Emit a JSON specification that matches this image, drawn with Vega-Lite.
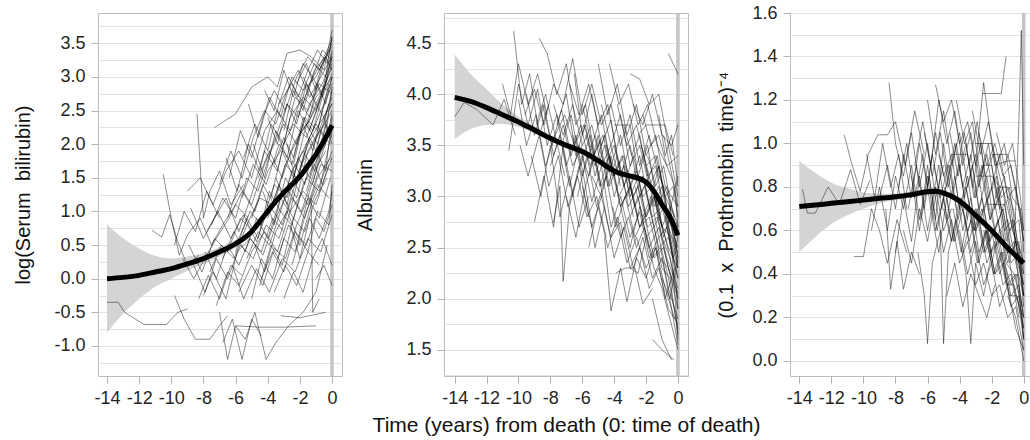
{
  "$schema": "https://vega.github.io/schema/vega-lite/v6.json",
  "padding": {"left": 13, "top": 3, "right": 0, "bottom": 0},
  "background": "white",
  "config": {
    "font": "Liberation Sans",
    "view": {"stroke": "#bdbdbd", "strokeWidth": 1},
    "axis": {
      "domain": false, "tickColor": "#b3b3b3", "tickSize": 7, "tickWidth": 1, "labelPadding": 6,
      "labelFont": "Liberation Sans", "labelFontSize": 18, "labelColor": "#262626",
      "titleFont": "Liberation Sans", "titleFontSize": 20, "titleFontWeight": "normal", "titleColor": "#111111",
      "gridColor": "#e3e3e3", "gridWidth": 1, "labelOverlap": false, "labelFlush": false, "labelBound": false, "tickCount": 100
    },
    "axisX": {"grid": false}
  },
  "datasets": {
    "vl": [{"t": 0}],
    "m1": [
      {"t": -14, "m": 0.0, "lo": -0.8, "hi": 0.81}, {"t": -13, "m": 0.02, "lo": -0.52, "hi": 0.6},
      {"t": -12, "m": 0.05, "lo": -0.3, "hi": 0.45}, {"t": -11, "m": 0.1, "lo": -0.12, "hi": 0.34},
      {"t": -10, "m": 0.15, "lo": 0.0, "hi": 0.3}, {"t": -9, "m": 0.22, "lo": 0.12, "hi": 0.33},
      {"t": -8, "m": 0.3, "lo": 0.22, "hi": 0.38}, {"t": -7, "m": 0.4, "lo": 0.33, "hi": 0.47},
      {"t": -6, "m": 0.52, "lo": 0.46, "hi": 0.58}, {"t": -5, "m": 0.7, "lo": 0.65, "hi": 0.75},
      {"t": -4.5, "m": 0.85, "lo": 0.8, "hi": 0.9}, {"t": -4, "m": 1.0, "lo": 0.95, "hi": 1.05},
      {"t": -3.5, "m": 1.15, "lo": 1.1, "hi": 1.2}, {"t": -3, "m": 1.28, "lo": 1.23, "hi": 1.33},
      {"t": -2.5, "m": 1.4, "lo": 1.35, "hi": 1.45}, {"t": -2, "m": 1.52, "lo": 1.47, "hi": 1.57},
      {"t": -1.5, "m": 1.68, "lo": 1.63, "hi": 1.73}, {"t": -1, "m": 1.85, "lo": 1.8, "hi": 1.9},
      {"t": -0.5, "m": 2.05, "lo": 1.99, "hi": 2.11}, {"t": 0, "m": 2.28, "lo": 2.2, "hi": 2.36}
    ],
    "m2": [
      {"t": -14, "m": 3.97, "lo": 3.56, "hi": 4.39}, {"t": -13, "m": 3.93, "lo": 3.66, "hi": 4.2},
      {"t": -12, "m": 3.87, "lo": 3.7, "hi": 4.05}, {"t": -11, "m": 3.8, "lo": 3.71, "hi": 3.9},
      {"t": -10, "m": 3.73, "lo": 3.68, "hi": 3.78}, {"t": -9, "m": 3.65, "lo": 3.62, "hi": 3.69},
      {"t": -8, "m": 3.57, "lo": 3.54, "hi": 3.6}, {"t": -7, "m": 3.5, "lo": 3.47, "hi": 3.53},
      {"t": -6, "m": 3.44, "lo": 3.41, "hi": 3.47}, {"t": -5, "m": 3.35, "lo": 3.32, "hi": 3.38},
      {"t": -4, "m": 3.25, "lo": 3.22, "hi": 3.28}, {"t": -3, "m": 3.2, "lo": 3.17, "hi": 3.23},
      {"t": -2.5, "m": 3.18, "lo": 3.15, "hi": 3.21}, {"t": -2, "m": 3.14, "lo": 3.11, "hi": 3.17},
      {"t": -1.5, "m": 3.05, "lo": 3.02, "hi": 3.08}, {"t": -1, "m": 2.92, "lo": 2.89, "hi": 2.95},
      {"t": -0.5, "m": 2.8, "lo": 2.76, "hi": 2.84}, {"t": 0, "m": 2.62, "lo": 2.57, "hi": 2.67}
    ],
    "m3": [
      {"t": -14, "m": 0.71, "lo": 0.5, "hi": 0.92}, {"t": -13, "m": 0.717, "lo": 0.57, "hi": 0.865},
      {"t": -12, "m": 0.725, "lo": 0.63, "hi": 0.82}, {"t": -11, "m": 0.732, "lo": 0.67, "hi": 0.795},
      {"t": -10, "m": 0.74, "lo": 0.7, "hi": 0.775}, {"t": -9, "m": 0.748, "lo": 0.725, "hi": 0.77},
      {"t": -8, "m": 0.755, "lo": 0.74, "hi": 0.77}, {"t": -7, "m": 0.765, "lo": 0.75, "hi": 0.78},
      {"t": -6, "m": 0.778, "lo": 0.763, "hi": 0.793}, {"t": -5.5, "m": 0.78, "lo": 0.765, "hi": 0.795},
      {"t": -5, "m": 0.772, "lo": 0.757, "hi": 0.787}, {"t": -4.5, "m": 0.757, "lo": 0.742, "hi": 0.772},
      {"t": -4, "m": 0.735, "lo": 0.72, "hi": 0.75}, {"t": -3.5, "m": 0.705, "lo": 0.69, "hi": 0.72},
      {"t": -3, "m": 0.67, "lo": 0.655, "hi": 0.685}, {"t": -2.5, "m": 0.635, "lo": 0.62, "hi": 0.65},
      {"t": -2, "m": 0.6, "lo": 0.585, "hi": 0.615}, {"t": -1.5, "m": 0.56, "lo": 0.545, "hi": 0.575},
      {"t": -1, "m": 0.52, "lo": 0.505, "hi": 0.535}, {"t": -0.5, "m": 0.485, "lo": 0.47, "hi": 0.5},
      {"t": 0, "m": 0.45, "lo": 0.43, "hi": 0.47}
    ],
    "s1": [
      {"id":"A","t":-14,"v":-0.35},{"id":"A","t":-13.3,"v":-0.35},{"id":"A","t":-12.9,"v":-0.5},{"id":"A","t":-11.7,"v":-0.68},{"id":"A","t":-10.3,"v":-0.68},{"id":"A","t":-9.6,"v":-0.5},{"id":"A","t":-9.0,"v":-0.45},
      {"id":"B","t":-11.2,"v":0.72},{"id":"B","t":-10.6,"v":0.62},{"id":"B","t":-10.1,"v":0.95},{"id":"B","t":-9.6,"v":0.55},{"id":"B","t":-9.0,"v":0.2},{"id":"B","t":-8.3,"v":0.35},
      {"id":"C","t":-10.5,"v":1.55},{"id":"C","t":-10.0,"v":0.9},{"id":"C","t":-9.5,"v":0.35},{"id":"C","t":-9.0,"v":0.65},{"id":"C","t":-8.2,"v":0.9},{"id":"C","t":-7.5,"v":0.5},{"id":"C","t":-6.8,"v":0.8},{"id":"C","t":-6.0,"v":1.1},{"id":"C","t":-5.2,"v":0.9},
      {"id":"D","t":-8.4,"v":2.45},{"id":"D","t":-8.0,"v":0.9},{"id":"D","t":-7.6,"v":1.3},{"id":"D","t":-7.0,"v":1.6},{"id":"D","t":-6.3,"v":1.1},{"id":"D","t":-5.5,"v":1.4},
      {"id":"E","t":-7.3,"v":2.25},{"id":"E","t":-6.0,"v":2.45},{"id":"E","t":-5.0,"v":2.85},{"id":"E","t":-4.0,"v":3.0},{"id":"E","t":-3.4,"v":2.85},{"id":"E","t":-2.8,"v":3.35},{"id":"E","t":-2.0,"v":3.4},{"id":"E","t":-1.3,"v":3.3},{"id":"E","t":-0.5,"v":3.1},{"id":"E","t":0,"v":3.7},
      {"id":"F","t":-9.8,"v":-0.25},{"id":"F","t":-9.2,"v":-0.6},{"id":"F","t":-8.5,"v":-0.9},{"id":"F","t":-7.6,"v":-0.9},{"id":"F","t":-7.0,"v":-0.7},{"id":"F","t":-6.5,"v":-0.55},
      {"id":"G","t":-7.0,"v":-0.5},{"id":"G","t":-6.5,"v":-1.2},{"id":"G","t":-6.0,"v":-0.7},{"id":"G","t":-5.4,"v":-0.9},{"id":"G","t":-4.8,"v":-0.5},{"id":"G","t":-4.1,"v":-1.2},{"id":"G","t":-3.5,"v":-0.95},{"id":"G","t":-2.7,"v":-0.7},{"id":"G","t":-1.8,"v":-0.5},{"id":"G","t":-1.0,"v":-0.2},{"id":"G","t":-0.3,"v":0.5},
      {"id":"H","t":-6.8,"v":-0.95},{"id":"H","t":-6.2,"v":-0.6},{"id":"H","t":-5.6,"v":-1.2},{"id":"H","t":-5.0,"v":-0.6},{"id":"H","t":-4.4,"v":-0.85},
      {"id":"I","t":-9.3,"v":0.3},{"id":"I","t":-8.6,"v":0.0},{"id":"I","t":-7.8,"v":0.35},{"id":"I","t":-7.2,"v":0.6},{"id":"I","t":-6.4,"v":0.9},{"id":"I","t":-5.6,"v":1.3},{"id":"I","t":-4.8,"v":1.0},{"id":"I","t":-4.0,"v":1.6},{"id":"I","t":-3.2,"v":1.9},{"id":"I","t":-2.4,"v":2.3},{"id":"I","t":-1.6,"v":2.1},{"id":"I","t":-0.8,"v":2.6},{"id":"I","t":0,"v":3.2},
      {"id":"J","t":-8.8,"v":1.05},{"id":"J","t":-8.0,"v":0.6},{"id":"J","t":-7.3,"v":0.9},{"id":"J","t":-6.6,"v":1.2},{"id":"J","t":-5.8,"v":0.7},{"id":"J","t":-5.0,"v":1.25},{"id":"J","t":-4.2,"v":1.9},{"id":"J","t":-3.4,"v":1.6},{"id":"J","t":-2.6,"v":2.4},{"id":"J","t":-1.8,"v":2.7},{"id":"J","t":-1.0,"v":2.5},{"id":"J","t":-0.3,"v":3.0},
      {"id":"K","t":-8.0,"v":-0.25},{"id":"K","t":-7.4,"v":0.1},{"id":"K","t":-6.6,"v":-0.3},{"id":"K","t":-5.9,"v":0.4},{"id":"K","t":-5.1,"v":0.6},{"id":"K","t":-4.3,"v":0.35},{"id":"K","t":-3.5,"v":0.9},{"id":"K","t":-2.7,"v":1.3},{"id":"K","t":-1.9,"v":1.0},{"id":"K","t":-1.1,"v":1.6},{"id":"K","t":-0.4,"v":1.9},
      {"id":"L","t":-7.6,"v":0.1},{"id":"L","t":-6.9,"v":0.5},{"id":"L","t":-6.1,"v":0.3},{"id":"L","t":-5.3,"v":0.8},{"id":"L","t":-4.5,"v":1.2},{"id":"L","t":-3.7,"v":1.1},{"id":"L","t":-2.9,"v":1.7},{"id":"L","t":-2.1,"v":2.1},{"id":"L","t":-1.3,"v":2.4},{"id":"L","t":-0.5,"v":2.8},{"id":"L","t":0,"v":3.3},
      {"id":"M","t":-6.5,"v":0.9},{"id":"M","t":-5.8,"v":1.4},{"id":"M","t":-5.0,"v":1.1},{"id":"M","t":-4.2,"v":1.7},{"id":"M","t":-3.5,"v":2.1},{"id":"M","t":-2.8,"v":2.6},{"id":"M","t":-2.1,"v":2.4},{"id":"M","t":-1.4,"v":2.9},{"id":"M","t":-0.7,"v":3.2},{"id":"M","t":0,"v":3.55},
      {"id":"N","t":-5.8,"v":-0.2},{"id":"N","t":-5.0,"v":0.2},{"id":"N","t":-4.3,"v":-0.1},{"id":"N","t":-3.6,"v":0.45},{"id":"N","t":-2.9,"v":0.3},{"id":"N","t":-2.2,"v":0.8},{"id":"N","t":-1.5,"v":1.2},{"id":"N","t":-0.8,"v":0.9},{"id":"N","t":-0.1,"v":1.5},
      {"id":"O","t":-4.8,"v":0.5},{"id":"O","t":-4.2,"v":0.1},{"id":"O","t":-3.5,"v":0.7},{"id":"O","t":-2.8,"v":1.0},{"id":"O","t":-2.1,"v":0.6},{"id":"O","t":-1.4,"v":1.3},{"id":"O","t":-0.7,"v":1.8},{"id":"O","t":0,"v":2.3},
      {"id":"P","t":-3.8,"v":1.2},{"id":"P","t":-3.1,"v":1.9},{"id":"P","t":-2.4,"v":1.5},{"id":"P","t":-1.7,"v":2.2},{"id":"P","t":-1.0,"v":2.7},{"id":"P","t":-0.3,"v":2.9},{"id":"P","t":0,"v":3.0},
      {"id":"Q","t":-5.5,"v":1.8},{"id":"Q","t":-4.8,"v":2.3},{"id":"Q","t":-4.0,"v":1.9},{"id":"Q","t":-3.3,"v":2.6},{"id":"Q","t":-2.5,"v":2.9},{"id":"Q","t":-1.8,"v":2.6},{"id":"Q","t":-1.1,"v":3.1},{"id":"Q","t":-0.4,"v":3.3},
      {"id":"R","t":-3.2,"v":-0.55},{"id":"R","t":-2.0,"v":-0.58},{"id":"R","t":-0.4,"v":-0.5},
      {"id":"S","t":-6.0,"v":-0.7},{"id":"S","t":-4.5,"v":-0.72},{"id":"S","t":-3.0,"v":-0.72},{"id":"S","t":-1.0,"v":-0.7},
      {"id":"T","t":-4.3,"v":1.3},{"id":"T","t":-3.6,"v":0.8},{"id":"T","t":-2.9,"v":1.5},{"id":"T","t":-2.2,"v":1.2},{"id":"T","t":-1.5,"v":1.9},{"id":"T","t":-0.8,"v":2.2},{"id":"T","t":-0.1,"v":2.0},
      {"id":"U","t":-7.8,"v":0.7},{"id":"U","t":-7.1,"v":1.0},{"id":"U","t":-6.3,"v":0.6},{"id":"U","t":-5.5,"v":0.95},{"id":"U","t":-4.7,"v":0.55},{"id":"U","t":-3.9,"v":1.1},{"id":"U","t":-3.1,"v":0.8},{"id":"U","t":-2.3,"v":1.4},{"id":"U","t":-1.5,"v":1.1},{"id":"U","t":-0.7,"v":1.7},{"id":"U","t":0,"v":1.6},
      {"id":"V","t":-9.0,"v":1.3},{"id":"V","t":-8.2,"v":1.5},{"id":"V","t":-7.4,"v":1.1},{"id":"V","t":-6.6,"v":1.6},{"id":"V","t":-5.8,"v":1.9},{"id":"V","t":-5.0,"v":1.5},{"id":"V","t":-4.2,"v":2.2},{"id":"V","t":-3.4,"v":2.5},{"id":"V","t":-2.6,"v":2.2},{"id":"V","t":-1.8,"v":2.8},{"id":"V","t":-1.0,"v":3.0},{"id":"V","t":-0.2,"v":3.4},
      {"id":"W","t":-6.2,"v":0.2},{"id":"W","t":-5.5,"v":-0.3},{"id":"W","t":-4.7,"v":0.15},{"id":"W","t":-3.9,"v":-0.2},{"id":"W","t":-3.1,"v":0.3},{"id":"W","t":-2.3,"v":0.1},{"id":"W","t":-1.5,"v":0.6},{"id":"W","t":-0.7,"v":0.4},{"id":"W","t":0,"v":0.95},
      {"id":"X","t":-3.0,"v":2.2},{"id":"X","t":-2.4,"v":2.8},{"id":"X","t":-1.8,"v":2.5},{"id":"X","t":-1.2,"v":3.0},{"id":"X","t":-0.6,"v":2.7},{"id":"X","t":0,"v":3.35},
      {"id":"Y","t":-2.0,"v":1.6},{"id":"Y","t":-1.4,"v":2.1},{"id":"Y","t":-0.8,"v":1.8},{"id":"Y","t":-0.2,"v":2.5},{"id":"Y","t":0,"v":2.6},
      {"id":"Z","t":-5.0,"v":-0.3},{"id":"Z","t":-4.4,"v":0.3},{"id":"Z","t":-3.7,"v":0.0},{"id":"Z","t":-3.0,"v":0.6},{"id":"Z","t":-2.3,"v":0.4},{"id":"Z","t":-1.6,"v":1.0},{"id":"Z","t":-0.9,"v":1.4},{"id":"Z","t":-0.2,"v":1.2},
      {"id":"AA","t":-6.6,"v":1.8},{"id":"AA","t":-5.9,"v":1.3},{"id":"AA","t":-5.2,"v":2.0},{"id":"AA","t":-4.5,"v":1.6},{"id":"AA","t":-3.8,"v":2.3},{"id":"AA","t":-3.0,"v":2.0},{"id":"AA","t":-2.3,"v":2.7},{"id":"AA","t":-1.5,"v":2.5},{"id":"AA","t":-0.8,"v":2.9},{"id":"AA","t":0,"v":2.75},
      {"id":"AB","t":-4.5,"v":-0.1},{"id":"AB","t":-3.8,"v":0.5},{"id":"AB","t":-3.1,"v":0.2},{"id":"AB","t":-2.4,"v":0.9},{"id":"AB","t":-1.7,"v":0.7},{"id":"AB","t":-1.0,"v":1.2},{"id":"AB","t":-0.3,"v":1.5},
      {"id":"AC","t":-1.3,"v":1.2},{"id":"AC","t":-1.2,"v":-0.5},{"id":"AC","t":-0.8,"v":-0.3},
      {"id":"AD","t":-3.5,"v":1.5},{"id":"AD","t":-2.8,"v":1.1},{"id":"AD","t":-2.1,"v":1.8},{"id":"AD","t":-1.4,"v":1.5},{"id":"AD","t":-0.7,"v":2.2},{"id":"AD","t":0,"v":2.5},
      {"id":"AE","t":-8.6,"v":0.2},{"id":"AE","t":-7.9,"v":-0.2},{"id":"AE","t":-7.2,"v":0.3},{"id":"AE","t":-6.5,"v":0.0},{"id":"AE","t":-5.7,"v":0.5},{"id":"AE","t":-4.9,"v":0.3},{"id":"AE","t":-4.1,"v":0.8},{"id":"AE","t":-3.3,"v":0.6},{"id":"AE","t":-2.5,"v":1.2},{"id":"AE","t":-1.7,"v":0.9},{"id":"AE","t":-0.9,"v":1.5},{"id":"AE","t":-0.1,"v":1.8},
      {"id":"AF","t":-1.0,"v":0.0},{"id":"AF","t":-0.5,"v":0.2},{"id":"AF","t":0,"v":-0.1},
      {"id":"AG","t":-2.6,"v":0.8},{"id":"AG","t":-2.0,"v":0.3},{"id":"AG","t":-1.4,"v":0.9},{"id":"AG","t":-0.8,"v":0.6},{"id":"AG","t":-0.2,"v":1.0},{"id":"AG","t":0,"v":1.3},
      {"id":"AH","t":-5.2,"v":2.6},{"id":"AH","t":-4.6,"v":2.1},{"id":"AH","t":-3.9,"v":2.7},{"id":"AH","t":-3.2,"v":2.4},{"id":"AH","t":-2.5,"v":3.0},{"id":"AH","t":-1.8,"v":2.8},{"id":"AH","t":-1.1,"v":3.2},{"id":"AH","t":-0.4,"v":3.0},{"id":"AH","t":0,"v":3.6},
      {"id":"AI","t":-4.0,"v":0.9},{"id":"AI","t":-3.3,"v":1.4},{"id":"AI","t":-2.6,"v":1.0},{"id":"AI","t":-1.9,"v":1.7},{"id":"AI","t":-1.2,"v":2.0},{"id":"AI","t":-0.5,"v":2.3},{"id":"AI","t":0,"v":2.8},
      {"id":"AJ","t":-7.2,"v":-0.4},{"id":"AJ","t":-6.5,"v":0.1},{"id":"AJ","t":-5.8,"v":-0.1},{"id":"AJ","t":-5.0,"v":0.4},{"id":"AJ","t":-4.2,"v":0.7},{"id":"AJ","t":-3.4,"v":0.4},{"id":"AJ","t":-2.6,"v":1.0},{"id":"AJ","t":-1.8,"v":1.3},{"id":"AJ","t":-1.0,"v":1.1},{"id":"AJ","t":-0.2,"v":1.7},
      {"id":"AK","t":-2.8,"v":2.0},{"id":"AK","t":-2.2,"v":1.4},{"id":"AK","t":-1.6,"v":2.0},{"id":"AK","t":-1.0,"v":2.3},{"id":"AK","t":-0.4,"v":2.1},{"id":"AK","t":0,"v":2.85},
      {"id":"AL","t":-6.0,"v":0.4},{"id":"AL","t":-5.3,"v":0.9},{"id":"AL","t":-4.6,"v":0.6},{"id":"AL","t":-3.9,"v":1.3},{"id":"AL","t":-3.2,"v":1.0},{"id":"AL","t":-2.5,"v":1.6},{"id":"AL","t":-1.8,"v":1.9},{"id":"AL","t":-1.1,"v":1.6},{"id":"AL","t":-0.4,"v":2.3},{"id":"AL","t":0,"v":2.1},
      {"id":"AM","t":-3.6,"v":-0.2},{"id":"AM","t":-2.9,"v":0.2},{"id":"AM","t":-2.2,"v":-0.1},{"id":"AM","t":-1.5,"v":0.4},{"id":"AM","t":-0.8,"v":0.2},
      {"id":"AN","t":-9.8,"v":0.5},{"id":"AN","t":-9.2,"v":1.0},{"id":"AN","t":-8.5,"v":0.7},{"id":"AN","t":-7.8,"v":1.3},{"id":"AN","t":-7.0,"v":0.9},
      {"id":"AO","t":-1.8,"v":3.0},{"id":"AO","t":-1.2,"v":2.7},{"id":"AO","t":-0.6,"v":3.2},{"id":"AO","t":0,"v":3.5},
      {"id":"AP","t":-8.3,"v":-0.3},{"id":"AP","t":-7.7,"v":0.05},{"id":"AP","t":-7.0,"v":-0.3},{"id":"AP","t":-6.3,"v":0.2},{"id":"AP","t":-5.6,"v":0.05},
      {"id":"AQ","t":-2.2,"v":2.9},{"id":"AQ","t":-1.6,"v":3.2},{"id":"AQ","t":-1.0,"v":2.8},{"id":"AQ","t":-0.4,"v":3.3},{"id":"AQ","t":0,"v":3.1},
      {"id":"AR","t":-1.5,"v":2.3},{"id":"AR","t":-1.0,"v":2.6},{"id":"AR","t":-0.5,"v":2.4},{"id":"AR","t":0,"v":2.0},
      {"id":"AS","t":-4.6,"v":1.5},{"id":"AS","t":-3.9,"v":1.9},{"id":"AS","t":-3.1,"v":1.5},{"id":"AS","t":-2.4,"v":2.0},{"id":"AS","t":-1.6,"v":2.3},{"id":"AS","t":-0.9,"v":2.0},{"id":"AS","t":-0.2,"v":2.6},
      {"id":"AT","t":-7.5,"v":0.8},{"id":"AT","t":-6.8,"v":1.2},{"id":"AT","t":-6.0,"v":0.9},{"id":"AT","t":-5.3,"v":1.5},{"id":"AT","t":-4.6,"v":1.3},{"id":"AT","t":-3.8,"v":1.9},{"id":"AT","t":-3.0,"v":2.3},{"id":"AT","t":-2.2,"v":2.0},{"id":"AT","t":-1.4,"v":2.6},{"id":"AT","t":-0.6,"v":2.9},{"id":"AT","t":0,"v":3.25},
      {"id":"AU","t":-5.8,"v":0.6},{"id":"AU","t":-5.1,"v":1.0},{"id":"AU","t":-4.4,"v":0.8},{"id":"AU","t":-3.6,"v":1.4},{"id":"AU","t":-2.8,"v":1.2},{"id":"AU","t":-2.0,"v":1.8},{"id":"AU","t":-1.2,"v":2.2},{"id":"AU","t":-0.5,"v":2.6},{"id":"AU","t":0,"v":3.0},
      {"id":"AV","t":-4.9,"v":2.0},{"id":"AV","t":-4.2,"v":1.5},{"id":"AV","t":-3.5,"v":2.2},{"id":"AV","t":-2.8,"v":1.8},{"id":"AV","t":-2.1,"v":2.5},{"id":"AV","t":-1.4,"v":2.2},{"id":"AV","t":-0.7,"v":2.7},{"id":"AV","t":0,"v":3.4},
      {"id":"AW","t":-3.4,"v":0.3},{"id":"AW","t":-2.7,"v":0.8},{"id":"AW","t":-2.0,"v":0.5},{"id":"AW","t":-1.3,"v":1.1},{"id":"AW","t":-0.6,"v":1.5},{"id":"AW","t":0,"v":1.9},
      {"id":"AX","t":-6.8,"v":0.3},{"id":"AX","t":-6.1,"v":0.7},{"id":"AX","t":-5.4,"v":0.4},{"id":"AX","t":-4.7,"v":0.9},{"id":"AX","t":-4.0,"v":0.6},{"id":"AX","t":-3.2,"v":1.2},{"id":"AX","t":-2.4,"v":0.9},{"id":"AX","t":-1.6,"v":1.5},{"id":"AX","t":-0.8,"v":1.3},{"id":"AX","t":0,"v":2.2},
      {"id":"AY","t":-2.4,"v":1.7},{"id":"AY","t":-1.8,"v":2.3},{"id":"AY","t":-1.2,"v":1.9},{"id":"AY","t":-0.6,"v":2.5},{"id":"AY","t":0,"v":2.9},
      {"id":"AZ","t":-8.9,"v":0.5},{"id":"AZ","t":-8.1,"v":0.1},{"id":"AZ","t":-7.3,"v":0.6},{"id":"AZ","t":-6.5,"v":0.4},{"id":"AZ","t":-5.7,"v":0.9},{"id":"AZ","t":-4.9,"v":0.7},
      {"id":"BA","t":-5.6,"v":1.2},{"id":"BA","t":-4.9,"v":1.7},{"id":"BA","t":-4.1,"v":1.4},{"id":"BA","t":-3.3,"v":2.0},{"id":"BA","t":-2.5,"v":1.7},{"id":"BA","t":-1.7,"v":2.4},{"id":"BA","t":-0.9,"v":2.2},{"id":"BA","t":-0.2,"v":2.9},
      {"id":"BB","t":-3.0,"v":-0.3},{"id":"BB","t":-2.4,"v":0.1},{"id":"BB","t":-1.8,"v":-0.2},{"id":"BB","t":-1.2,"v":0.3},{"id":"BB","t":-0.6,"v":0.6},{"id":"BB","t":0,"v":0.2},
      {"id":"BC","t":-7.0,"v":1.4},{"id":"BC","t":-6.3,"v":1.9},{"id":"BC","t":-5.6,"v":1.5},{"id":"BC","t":-4.9,"v":2.1},{"id":"BC","t":-4.2,"v":2.5},{"id":"BC","t":-3.5,"v":2.3},{"id":"BC","t":-2.8,"v":2.8},{"id":"BC","t":-2.1,"v":3.1},{"id":"BC","t":-1.4,"v":2.7},{"id":"BC","t":-0.7,"v":3.0},{"id":"BC","t":0,"v":3.3},
      {"id":"BD","t":-1.2,"v":1.4},{"id":"BD","t":-0.8,"v":1.8},{"id":"BD","t":-0.4,"v":1.6},{"id":"BD","t":0,"v":2.4},
      {"id":"BE","t":-4.0,"v":2.4},{"id":"BE","t":-3.4,"v":2.0},{"id":"BE","t":-2.8,"v":2.6},{"id":"BE","t":-2.2,"v":2.3},{"id":"BE","t":-1.6,"v":2.9},{"id":"BE","t":-1.0,"v":2.6},{"id":"BE","t":-0.4,"v":2.9},{"id":"BE","t":0,"v":3.15},
      {"id":"BF","t":-3.6,"v":1.7},{"id":"BF","t":-3.0,"v":2.1},{"id":"BF","t":-2.4,"v":1.8},{"id":"BF","t":-1.8,"v":2.4},{"id":"BF","t":-1.2,"v":2.2},{"id":"BF","t":-0.6,"v":2.7},{"id":"BF","t":0,"v":3.05},
      {"id":"BG","t":-5.3,"v":0.3},{"id":"BG","t":-4.6,"v":0.7},{"id":"BG","t":-3.9,"v":0.5},{"id":"BG","t":-3.2,"v":1.0},{"id":"BG","t":-2.5,"v":0.8},{"id":"BG","t":-1.8,"v":1.4},{"id":"BG","t":-1.1,"v":1.7},{"id":"BG","t":-0.4,"v":2.0},{"id":"BG","t":0,"v":2.45},
      {"id":"BH","t":-2.9,"v":1.3},{"id":"BH","t":-2.3,"v":1.7},{"id":"BH","t":-1.7,"v":1.4},{"id":"BH","t":-1.1,"v":2.0},{"id":"BH","t":-0.5,"v":2.4},{"id":"BH","t":0,"v":2.7},
      {"id":"BI","t":-6.4,"v":1.5},{"id":"BI","t":-5.7,"v":2.2},{"id":"BI","t":-5.0,"v":1.8},{"id":"BI","t":-4.3,"v":2.4},{"id":"BI","t":-3.6,"v":2.8},{"id":"BI","t":-2.9,"v":2.5},{"id":"BI","t":-2.2,"v":3.0},{"id":"BI","t":-1.5,"v":3.3},{"id":"BI","t":-0.8,"v":3.1},{"id":"BI","t":0,"v":3.45},
      {"id":"BJ","t":-4.4,"v":0.0},{"id":"BJ","t":-3.7,"v":0.4},{"id":"BJ","t":-3.0,"v":0.1},{"id":"BJ","t":-2.3,"v":0.7},{"id":"BJ","t":-1.6,"v":0.5},{"id":"BJ","t":-0.9,"v":1.0},{"id":"BJ","t":-0.2,"v":0.8},{"id":"BJ","t":0,"v":1.4},
      {"id":"BK","t":-1.9,"v":2.6},{"id":"BK","t":-1.4,"v":2.4},{"id":"BK","t":-0.9,"v":2.9},{"id":"BK","t":-0.4,"v":2.6},{"id":"BK","t":0,"v":3.0},
      {"id":"BL","t":-3.3,"v":2.6},{"id":"BL","t":-2.7,"v":3.0},{"id":"BL","t":-2.1,"v":2.7},{"id":"BL","t":-1.5,"v":3.1},{"id":"BL","t":-0.9,"v":3.4},{"id":"BL","t":-0.3,"v":3.2},{"id":"BL","t":0,"v":3.6},
      {"id":"BM","t":-5.0,"v":0.9},{"id":"BM","t":-4.3,"v":1.4},{"id":"BM","t":-3.6,"v":1.1},{"id":"BM","t":-2.9,"v":1.7},{"id":"BM","t":-2.2,"v":1.5},{"id":"BM","t":-1.5,"v":2.0},{"id":"BM","t":-0.8,"v":2.3},{"id":"BM","t":0,"v":2.6},
      {"id":"BN","t":-7.9,"v":0.4},{"id":"BN","t":-7.2,"v":0.0},{"id":"BN","t":-6.5,"v":0.5},{"id":"BN","t":-5.8,"v":0.2},{"id":"BN","t":-5.1,"v":0.6},{"id":"BN","t":-4.4,"v":0.4},{"id":"BN","t":-3.7,"v":0.9},{"id":"BN","t":-3.0,"v":0.7},
      {"id":"BO","t":-2.5,"v":0.2},{"id":"BO","t":-2.0,"v":0.6},{"id":"BO","t":-1.5,"v":0.4},{"id":"BO","t":-1.0,"v":0.9},{"id":"BO","t":-0.5,"v":0.7},{"id":"BO","t":0,"v":1.1},
      {"id":"BP","t":-4.2,"v":2.8},{"id":"BP","t":-3.6,"v":2.5},{"id":"BP","t":-3.0,"v":3.1},{"id":"BP","t":-2.4,"v":2.7},{"id":"BP","t":-1.8,"v":3.2},{"id":"BP","t":-1.2,"v":3.0},{"id":"BP","t":-0.6,"v":3.4},{"id":"BP","t":0,"v":3.25},
      {"id":"BQ","t":-1.6,"v":1.3},{"id":"BQ","t":-1.1,"v":1.7},{"id":"BQ","t":-0.6,"v":1.4},{"id":"BQ","t":0,"v":1.8}
    ],
    "s2": [
      {"id":"A","t":-14,"v":3.78},{"id":"A","t":-13.4,"v":3.92},{"id":"A","t":-12.6,"v":3.85},{"id":"A","t":-11.6,"v":3.7},{"id":"A","t":-10.9,"v":3.95},{"id":"A","t":-10.2,"v":3.6},
      {"id":"B","t":-10.3,"v":4.62},{"id":"B","t":-9.8,"v":3.9},{"id":"B","t":-9.3,"v":4.2},{"id":"B","t":-8.7,"v":3.6},{"id":"B","t":-8.1,"v":3.9},
      {"id":"C","t":-8.7,"v":4.55},{"id":"C","t":-8.2,"v":4.4},{"id":"C","t":-7.6,"v":4.0},{"id":"C","t":-7.0,"v":4.3},{"id":"C","t":-6.4,"v":3.7},{"id":"C","t":-5.8,"v":3.9},{"id":"C","t":-5.2,"v":3.4},
      {"id":"D","t":-10.6,"v":3.45},{"id":"D","t":-10.0,"v":4.1},{"id":"D","t":-9.4,"v":3.7},{"id":"D","t":-8.8,"v":4.05},{"id":"D","t":-8.2,"v":3.5},{"id":"D","t":-7.6,"v":3.8},{"id":"D","t":-7.0,"v":3.3},{"id":"D","t":-6.4,"v":3.6},{"id":"D","t":-5.8,"v":3.1},{"id":"D","t":-5.2,"v":3.4},{"id":"D","t":-4.6,"v":2.9},
      {"id":"E","t":-7.8,"v":2.75},{"id":"E","t":-7.4,"v":3.1},{"id":"E","t":-7.2,"v":2.17},{"id":"E","t":-6.8,"v":2.9},{"id":"E","t":-6.2,"v":3.3},{"id":"E","t":-5.6,"v":2.8},
      {"id":"F","t":-9.0,"v":2.75},{"id":"F","t":-8.4,"v":3.2},{"id":"F","t":-7.8,"v":2.7},{"id":"F","t":-7.2,"v":3.5},{"id":"F","t":-6.6,"v":3.0},{"id":"F","t":-6.0,"v":3.4},{"id":"F","t":-5.4,"v":2.95},{"id":"F","t":-4.8,"v":3.3},{"id":"F","t":-4.2,"v":2.7},{"id":"F","t":-3.6,"v":3.0},{"id":"F","t":-3.0,"v":2.6},{"id":"F","t":-2.4,"v":2.85},{"id":"F","t":-1.8,"v":2.4},{"id":"F","t":-1.2,"v":2.6},{"id":"F","t":-0.6,"v":2.2},{"id":"F","t":0,"v":1.7},
      {"id":"G","t":-4.6,"v":2.6},{"id":"G","t":-4.2,"v":1.88},{"id":"G","t":-3.6,"v":2.3},{"id":"G","t":-3.2,"v":1.97},{"id":"G","t":-2.6,"v":2.4},{"id":"G","t":-2.0,"v":2.2},{"id":"G","t":-1.4,"v":2.5},{"id":"G","t":-0.8,"v":2.1},{"id":"G","t":-0.2,"v":1.8},
      {"id":"H","t":-1.6,"v":1.6},{"id":"H","t":-1.0,"v":1.5},{"id":"H","t":-0.25,"v":1.4},
      {"id":"I","t":-9.6,"v":3.8},{"id":"I","t":-9.0,"v":4.05},{"id":"I","t":-8.4,"v":3.7},{"id":"I","t":-7.8,"v":4.1},{"id":"I","t":-7.2,"v":3.9},{"id":"I","t":-6.6,"v":4.35},{"id":"I","t":-6.0,"v":3.8},{"id":"I","t":-5.4,"v":4.1},{"id":"I","t":-4.8,"v":3.7},{"id":"I","t":-4.2,"v":3.9},{"id":"I","t":-3.6,"v":3.5},{"id":"I","t":-3.0,"v":3.8},{"id":"I","t":-2.4,"v":3.3},{"id":"I","t":-1.8,"v":3.6},{"id":"I","t":-1.2,"v":3.2},{"id":"I","t":-0.6,"v":3.0},{"id":"I","t":0,"v":2.7},
      {"id":"J","t":-3.0,"v":4.2},{"id":"J","t":-2.4,"v":4.15},{"id":"J","t":-1.8,"v":3.9},{"id":"J","t":-1.2,"v":4.0},{"id":"J","t":-0.6,"v":3.5},{"id":"J","t":0,"v":3.0},
      {"id":"K","t":-0.6,"v":4.4},{"id":"K","t":0,"v":4.2},
      {"id":"L","t":-6.5,"v":4.2},{"id":"L","t":-6.0,"v":3.6},{"id":"L","t":-5.4,"v":4.0},{"id":"L","t":-4.8,"v":3.5},{"id":"L","t":-4.2,"v":3.75},{"id":"L","t":-3.6,"v":3.2},{"id":"L","t":-3.0,"v":3.5},{"id":"L","t":-2.4,"v":3.0},{"id":"L","t":-1.8,"v":3.2},{"id":"L","t":-1.2,"v":2.8},{"id":"L","t":-0.6,"v":2.5},{"id":"L","t":0,"v":2.3},
      {"id":"M","t":-8.0,"v":3.3},{"id":"M","t":-7.4,"v":3.6},{"id":"M","t":-6.8,"v":3.1},{"id":"M","t":-6.2,"v":3.5},{"id":"M","t":-5.6,"v":3.2},{"id":"M","t":-5.0,"v":3.6},{"id":"M","t":-4.4,"v":3.1},{"id":"M","t":-3.8,"v":3.4},{"id":"M","t":-3.2,"v":3.0},{"id":"M","t":-2.6,"v":3.25},{"id":"M","t":-2.0,"v":2.8},{"id":"M","t":-1.4,"v":3.0},{"id":"M","t":-0.8,"v":2.6},{"id":"M","t":-0.2,"v":2.2},
      {"id":"N","t":-5.0,"v":4.3},{"id":"N","t":-4.4,"v":3.8},{"id":"N","t":-3.8,"v":4.1},{"id":"N","t":-3.2,"v":3.6},{"id":"N","t":-2.6,"v":3.9},{"id":"N","t":-2.0,"v":3.4},{"id":"N","t":-1.4,"v":3.6},{"id":"N","t":-0.8,"v":3.1},{"id":"N","t":0,"v":2.9},
      {"id":"O","t":-2.5,"v":3.6},{"id":"O","t":-2.0,"v":3.7},{"id":"O","t":-1.5,"v":3.7},{"id":"O","t":-0.8,"v":3.7},{"id":"O","t":-0.3,"v":3.4},
      {"id":"P","t":-4.0,"v":3.7},{"id":"P","t":-3.0,"v":3.7},{"id":"P","t":-2.5,"v":3.2},{"id":"P","t":-1.9,"v":3.5},{"id":"P","t":-1.3,"v":2.9},{"id":"P","t":-0.7,"v":3.1},{"id":"P","t":-0.1,"v":2.5},
      {"id":"Q","t":-7.0,"v":3.0},{"id":"Q","t":-6.4,"v":2.6},{"id":"Q","t":-5.8,"v":3.1},{"id":"Q","t":-5.2,"v":2.5},{"id":"Q","t":-4.6,"v":2.9},{"id":"Q","t":-4.0,"v":2.4},{"id":"Q","t":-3.4,"v":2.7},{"id":"Q","t":-2.8,"v":2.3},{"id":"Q","t":-2.2,"v":2.6},{"id":"Q","t":-1.6,"v":2.2},{"id":"Q","t":-1.0,"v":2.4},{"id":"Q","t":-0.4,"v":1.9},{"id":"Q","t":0,"v":1.55},
      {"id":"R","t":-10.0,"v":3.95},{"id":"R","t":-9.5,"v":3.5},{"id":"R","t":-8.9,"v":3.8},{"id":"R","t":-8.3,"v":3.3},{"id":"R","t":-7.7,"v":3.6},{"id":"R","t":-7.1,"v":3.2},
      {"id":"S","t":-9.2,"v":3.4},{"id":"S","t":-8.6,"v":3.0},{"id":"S","t":-8.0,"v":3.5},{"id":"S","t":-7.4,"v":2.8},{"id":"S","t":-6.8,"v":3.2},{"id":"S","t":-6.2,"v":2.7},{"id":"S","t":-5.6,"v":3.0},
      {"id":"T","t":-6.0,"v":3.9},{"id":"T","t":-5.4,"v":3.5},{"id":"T","t":-4.8,"v":3.8},{"id":"T","t":-4.2,"v":3.3},{"id":"T","t":-3.6,"v":3.6},{"id":"T","t":-3.0,"v":3.1},{"id":"T","t":-2.4,"v":3.4},{"id":"T","t":-1.8,"v":2.9},{"id":"T","t":-1.2,"v":3.1},{"id":"T","t":-0.6,"v":2.7},{"id":"T","t":0,"v":2.45},
      {"id":"U","t":-3.6,"v":2.9},{"id":"U","t":-3.0,"v":2.5},{"id":"U","t":-2.4,"v":2.9},{"id":"U","t":-1.8,"v":2.5},{"id":"U","t":-1.2,"v":2.7},{"id":"U","t":-0.6,"v":2.3},{"id":"U","t":0,"v":2.0},
      {"id":"V","t":-5.6,"v":2.5},{"id":"V","t":-5.0,"v":2.9},{"id":"V","t":-4.4,"v":2.5},{"id":"V","t":-3.8,"v":2.8},{"id":"V","t":-3.2,"v":2.35},{"id":"V","t":-2.6,"v":2.6},{"id":"V","t":-2.0,"v":2.3},{"id":"V","t":-1.4,"v":2.5},{"id":"V","t":-0.8,"v":2.0},{"id":"V","t":-0.2,"v":2.3},
      {"id":"W","t":-1.2,"v":3.8},{"id":"W","t":-0.8,"v":3.4},{"id":"W","t":-0.4,"v":3.6},{"id":"W","t":0,"v":3.1},
      {"id":"X","t":-11.0,"v":4.1},{"id":"X","t":-10.5,"v":3.8},{"id":"X","t":-10.0,"v":4.3},{"id":"X","t":-9.4,"v":3.9},{"id":"X","t":-8.8,"v":4.2},{"id":"X","t":-8.2,"v":3.8},
      {"id":"Y","t":-4.3,"v":4.3},{"id":"Y","t":-3.7,"v":3.9},{"id":"Y","t":-3.1,"v":4.1},{"id":"Y","t":-2.5,"v":3.7},{"id":"Y","t":-1.9,"v":3.9},{"id":"Y","t":-1.3,"v":3.5},{"id":"Y","t":-0.7,"v":3.3},{"id":"Y","t":0,"v":3.4},
      {"id":"Z","t":-2.0,"v":3.3},{"id":"Z","t":-1.5,"v":2.9},{"id":"Z","t":-1.0,"v":3.1},{"id":"Z","t":-0.5,"v":2.6},{"id":"Z","t":0,"v":2.3},
      {"id":"AA","t":-7.6,"v":3.7},{"id":"AA","t":-7.0,"v":4.0},{"id":"AA","t":-6.4,"v":3.4},{"id":"AA","t":-5.8,"v":3.7},{"id":"AA","t":-5.2,"v":3.2},{"id":"AA","t":-4.6,"v":3.5},{"id":"AA","t":-4.0,"v":3.0},{"id":"AA","t":-3.4,"v":3.3},{"id":"AA","t":-2.8,"v":2.8},
      {"id":"AB","t":-3.3,"v":3.3},{"id":"AB","t":-2.7,"v":2.9},{"id":"AB","t":-2.1,"v":3.1},{"id":"AB","t":-1.5,"v":2.7},{"id":"AB","t":-0.9,"v":2.9},{"id":"AB","t":-0.3,"v":2.4},{"id":"AB","t":0,"v":2.6},
      {"id":"AC","t":-1.8,"v":2.9},{"id":"AC","t":-1.2,"v":3.3},{"id":"AC","t":-0.6,"v":2.8},{"id":"AC","t":0,"v":3.2},
      {"id":"AD","t":-0.8,"v":3.0},{"id":"AD","t":-0.4,"v":2.5},{"id":"AD","t":0,"v":1.6},
      {"id":"AE","t":-9.9,"v":3.5},{"id":"AE","t":-9.4,"v":3.2},{"id":"AE","t":-8.7,"v":3.6},{"id":"AE","t":-8.1,"v":3.1},{"id":"AE","t":-7.5,"v":3.4},{"id":"AE","t":-6.9,"v":2.9},{"id":"AE","t":-6.3,"v":3.2},{"id":"AE","t":-5.7,"v":2.8},{"id":"AE","t":-5.1,"v":3.0},{"id":"AE","t":-4.5,"v":2.6},
      {"id":"AF","t":-5.4,"v":3.2},{"id":"AF","t":-4.8,"v":3.0},{"id":"AF","t":-4.2,"v":3.4},{"id":"AF","t":-3.6,"v":2.9},{"id":"AF","t":-3.0,"v":3.1},{"id":"AF","t":-2.4,"v":2.7},{"id":"AF","t":-1.8,"v":2.9},{"id":"AF","t":-1.2,"v":2.5},{"id":"AF","t":-0.6,"v":2.6},{"id":"AF","t":0,"v":2.2},
      {"id":"AG","t":-2.8,"v":3.9},{"id":"AG","t":-2.2,"v":3.7},{"id":"AG","t":-1.6,"v":4.0},{"id":"AG","t":-1.0,"v":3.6},{"id":"AG","t":-0.4,"v":3.5},{"id":"AG","t":0,"v":3.7},
      {"id":"AH","t":-6.8,"v":4.1},{"id":"AH","t":-6.2,"v":3.8},{"id":"AH","t":-5.6,"v":4.1},{"id":"AH","t":-5.0,"v":3.7},{"id":"AH","t":-4.4,"v":3.9},{"id":"AH","t":-3.8,"v":3.4},
      {"id":"AI","t":-1.0,"v":2.2},{"id":"AI","t":-0.5,"v":2.0},{"id":"AI","t":0,"v":2.4},
      {"id":"AJ","t":-3.9,"v":2.25},{"id":"AJ","t":-3.3,"v":2.3},{"id":"AJ","t":-2.7,"v":2.3},{"id":"AJ","t":-2.2,"v":1.95},{"id":"AJ","t":-1.6,"v":2.1},
      {"id":"AK","t":-1.6,"v":2.0},{"id":"AK","t":-1.0,"v":1.6},{"id":"AK","t":-0.4,"v":1.4},
      {"id":"AL","t":-8.5,"v":3.9},{"id":"AL","t":-7.9,"v":3.5},{"id":"AL","t":-7.3,"v":3.85},{"id":"AL","t":-6.7,"v":3.4},{"id":"AL","t":-6.1,"v":3.7},{"id":"AL","t":-5.5,"v":3.3},{"id":"AL","t":-4.9,"v":3.55},{"id":"AL","t":-4.3,"v":3.1},{"id":"AL","t":-3.7,"v":3.35},{"id":"AL","t":-3.1,"v":2.9},{"id":"AL","t":-2.5,"v":3.1},{"id":"AL","t":-1.9,"v":2.7},{"id":"AL","t":-1.3,"v":2.8},{"id":"AL","t":-0.7,"v":2.4},{"id":"AL","t":0,"v":2.1},
      {"id":"AM","t":-6.3,"v":3.0},{"id":"AM","t":-5.7,"v":3.4},{"id":"AM","t":-5.1,"v":2.9},{"id":"AM","t":-4.5,"v":3.2},{"id":"AM","t":-3.9,"v":2.7},{"id":"AM","t":-3.3,"v":3.0},{"id":"AM","t":-2.7,"v":2.6},{"id":"AM","t":-2.1,"v":2.8},{"id":"AM","t":-1.5,"v":2.4},{"id":"AM","t":-0.9,"v":2.5},{"id":"AM","t":-0.3,"v":2.1},{"id":"AM","t":0,"v":1.9},
      {"id":"AN","t":-4.8,"v":3.9},{"id":"AN","t":-4.2,"v":3.5},{"id":"AN","t":-3.6,"v":3.8},{"id":"AN","t":-3.0,"v":3.3},{"id":"AN","t":-2.4,"v":3.5},{"id":"AN","t":-1.8,"v":3.1},{"id":"AN","t":-1.2,"v":3.3},{"id":"AN","t":-0.6,"v":2.8},{"id":"AN","t":0,"v":2.5},
      {"id":"AO","t":-3.0,"v":2.3},{"id":"AO","t":-2.5,"v":2.25},{"id":"AO","t":-2.0,"v":2.6},{"id":"AO","t":-1.5,"v":2.3},{"id":"AO","t":-1.0,"v":2.1},{"id":"AO","t":-0.5,"v":1.8},{"id":"AO","t":0,"v":1.5},
      {"id":"AP","t":-7.3,"v":3.5},{"id":"AP","t":-6.7,"v":3.8},{"id":"AP","t":-6.1,"v":3.3},{"id":"AP","t":-5.5,"v":3.6},{"id":"AP","t":-4.9,"v":3.1},{"id":"AP","t":-4.3,"v":3.4},{"id":"AP","t":-3.7,"v":3.0},{"id":"AP","t":-3.1,"v":3.2},{"id":"AP","t":-2.5,"v":2.8},
      {"id":"AQ","t":-2.3,"v":3.5},{"id":"AQ","t":-1.8,"v":3.2},{"id":"AQ","t":-1.3,"v":3.4},{"id":"AQ","t":-0.8,"v":3.0},{"id":"AQ","t":-0.3,"v":3.1},{"id":"AQ","t":0,"v":2.8},
      {"id":"AR","t":-9.5,"v":4.0},{"id":"AR","t":-9.0,"v":3.6},{"id":"AR","t":-8.4,"v":3.9},{"id":"AR","t":-7.8,"v":3.4},{"id":"AR","t":-7.2,"v":3.7},{"id":"AR","t":-6.6,"v":3.3},{"id":"AR","t":-6.0,"v":3.5},
      {"id":"AS","t":-5.2,"v":3.6},{"id":"AS","t":-4.6,"v":3.3},{"id":"AS","t":-4.0,"v":3.5},{"id":"AS","t":-3.4,"v":3.1},{"id":"AS","t":-2.8,"v":3.4},{"id":"AS","t":-2.2,"v":3.0},{"id":"AS","t":-1.6,"v":3.1},{"id":"AS","t":-1.0,"v":2.7},{"id":"AS","t":-0.4,"v":2.6},{"id":"AS","t":0,"v":2.35},
      {"id":"AT","t":-1.5,"v":3.0},{"id":"AT","t":-1.0,"v":2.7},{"id":"AT","t":-0.5,"v":2.9},{"id":"AT","t":0,"v":2.4},
      {"id":"AU","t":-3.8,"v":3.9},{"id":"AU","t":-3.2,"v":3.5},{"id":"AU","t":-2.6,"v":3.7},{"id":"AU","t":-2.0,"v":3.3},{"id":"AU","t":-1.4,"v":3.4},{"id":"AU","t":-0.8,"v":3.0},{"id":"AU","t":-0.2,"v":2.8},
      {"id":"AV","t":-6.0,"v":3.1},{"id":"AV","t":-5.4,"v":2.7},{"id":"AV","t":-4.8,"v":3.0},{"id":"AV","t":-4.2,"v":2.6},{"id":"AV","t":-3.6,"v":2.75},{"id":"AV","t":-3.0,"v":2.3},{"id":"AV","t":-2.4,"v":2.5},{"id":"AV","t":-1.8,"v":2.1},{"id":"AV","t":-1.2,"v":2.3},{"id":"AV","t":-0.6,"v":1.9},{"id":"AV","t":0,"v":1.75},
      {"id":"AW","t":-0.9,"v":3.6},{"id":"AW","t":-0.5,"v":3.3},{"id":"AW","t":0,"v":2.9},
      {"id":"AX","t":-4.5,"v":3.5},{"id":"AX","t":-4.0,"v":3.2},{"id":"AX","t":-3.5,"v":3.4},{"id":"AX","t":-3.0,"v":3.0},{"id":"AX","t":-2.5,"v":3.2},{"id":"AX","t":-2.0,"v":2.8},{"id":"AX","t":-1.5,"v":3.0},{"id":"AX","t":-1.0,"v":2.6},{"id":"AX","t":-0.5,"v":2.4},{"id":"AX","t":0,"v":2.0},
      {"id":"AY","t":-3.4,"v":3.7},{"id":"AY","t":-2.9,"v":3.4},{"id":"AY","t":-2.4,"v":3.6},{"id":"AY","t":-1.9,"v":3.2},{"id":"AY","t":-1.4,"v":3.3},{"id":"AY","t":-0.9,"v":2.9},{"id":"AY","t":-0.4,"v":2.7},{"id":"AY","t":0,"v":2.3},
      {"id":"AZ","t":-5.8,"v":3.6},{"id":"AZ","t":-5.2,"v":3.3},{"id":"AZ","t":-4.6,"v":3.6},{"id":"AZ","t":-4.0,"v":3.2},{"id":"AZ","t":-3.4,"v":3.4},{"id":"AZ","t":-2.8,"v":3.0},{"id":"AZ","t":-2.2,"v":3.2},{"id":"AZ","t":-1.6,"v":2.8},{"id":"AZ","t":-1.0,"v":2.9},{"id":"AZ","t":-0.4,"v":2.5},{"id":"AZ","t":0,"v":2.2},
      {"id":"BA","t":-2.7,"v":3.1},{"id":"BA","t":-2.2,"v":2.8},{"id":"BA","t":-1.7,"v":3.0},{"id":"BA","t":-1.2,"v":2.6},{"id":"BA","t":-0.7,"v":2.7},{"id":"BA","t":-0.2,"v":2.3},{"id":"BA","t":0,"v":1.9},
      {"id":"BB","t":-7.8,"v":3.9},{"id":"BB","t":-7.2,"v":3.6},{"id":"BB","t":-6.6,"v":3.9},{"id":"BB","t":-6.0,"v":3.5},{"id":"BB","t":-5.4,"v":3.7},{"id":"BB","t":-4.8,"v":3.3},{"id":"BB","t":-4.2,"v":3.5},{"id":"BB","t":-3.6,"v":3.1},
      {"id":"BC","t":-1.9,"v":3.4},{"id":"BC","t":-1.4,"v":3.1},{"id":"BC","t":-0.9,"v":3.3},{"id":"BC","t":-0.4,"v":2.9},{"id":"BC","t":0,"v":2.6},
      {"id":"BD","t":-4.1,"v":2.9},{"id":"BD","t":-3.6,"v":2.6},{"id":"BD","t":-3.1,"v":2.8},{"id":"BD","t":-2.6,"v":2.5},{"id":"BD","t":-2.1,"v":2.7},{"id":"BD","t":-1.6,"v":2.4},{"id":"BD","t":-1.1,"v":2.5},{"id":"BD","t":-0.6,"v":2.1},{"id":"BD","t":0,"v":1.8},
      {"id":"BE","t":-8.9,"v":3.7},{"id":"BE","t":-8.3,"v":4.0},{"id":"BE","t":-7.7,"v":3.6},{"id":"BE","t":-7.1,"v":3.8},{"id":"BE","t":-6.5,"v":3.5},{"id":"BE","t":-5.9,"v":3.7},{"id":"BE","t":-5.3,"v":3.4},{"id":"BE","t":-4.7,"v":3.6},{"id":"BE","t":-4.1,"v":3.2},
      {"id":"BF","t":-2.2,"v":3.8},{"id":"BF","t":-1.7,"v":3.5},{"id":"BF","t":-1.2,"v":3.6},{"id":"BF","t":-0.7,"v":3.3},{"id":"BF","t":-0.2,"v":3.1},{"id":"BF","t":0,"v":2.7},
      {"id":"BG","t":-3.0,"v":2.8},{"id":"BG","t":-2.5,"v":3.0},{"id":"BG","t":-2.0,"v":2.6},{"id":"BG","t":-1.5,"v":2.7},{"id":"BG","t":-1.0,"v":2.3},{"id":"BG","t":-0.5,"v":2.2},{"id":"BG","t":0,"v":1.65},
      {"id":"BH","t":-6.6,"v":3.6},{"id":"BH","t":-6.0,"v":3.2},{"id":"BH","t":-5.4,"v":3.5},{"id":"BH","t":-4.8,"v":3.1},{"id":"BH","t":-4.2,"v":3.3},{"id":"BH","t":-3.6,"v":2.9},{"id":"BH","t":-3.0,"v":3.1},{"id":"BH","t":-2.4,"v":2.7},{"id":"BH","t":-1.8,"v":2.8},{"id":"BH","t":-1.2,"v":2.4},{"id":"BH","t":-0.6,"v":2.3},{"id":"BH","t":0,"v":2.05},
      {"id":"BI","t":-1.3,"v":3.0},{"id":"BI","t":-0.9,"v":2.6},{"id":"BI","t":-0.5,"v":2.8},{"id":"BI","t":0,"v":2.4}
    ],
    "s3": [
      {"id":"A","t":-13.8,"v":0.79},{"id":"A","t":-13.5,"v":0.68},{"id":"A","t":-13.0,"v":0.68},{"id":"A","t":-12.2,"v":0.8},{"id":"A","t":-11.5,"v":0.72},{"id":"A","t":-10.8,"v":0.88},{"id":"A","t":-10.2,"v":0.72},{"id":"A","t":-9.6,"v":0.83},
      {"id":"B","t":-11.2,"v":1.04},{"id":"B","t":-10.7,"v":0.9},{"id":"B","t":-10.2,"v":0.78},{"id":"B","t":-9.7,"v":0.95},{"id":"B","t":-9.1,"v":1.04},{"id":"B","t":-8.5,"v":1.04},{"id":"B","t":-8.0,"v":1.1},{"id":"B","t":-7.4,"v":0.9},{"id":"B","t":-6.8,"v":1.15},{"id":"B","t":-6.2,"v":0.95},
      {"id":"C","t":-10.6,"v":0.48},{"id":"C","t":-10.0,"v":0.48},{"id":"C","t":-9.5,"v":0.7},{"id":"C","t":-9.0,"v":0.6},{"id":"C","t":-8.5,"v":0.45},{"id":"C","t":-7.9,"v":0.65},{"id":"C","t":-7.3,"v":0.5},
      {"id":"D","t":-8.6,"v":0.7},{"id":"D","t":-8.3,"v":0.33},{"id":"D","t":-7.9,"v":0.55},{"id":"D","t":-7.5,"v":0.33},{"id":"D","t":-7.0,"v":0.5},{"id":"D","t":-6.5,"v":0.4},
      {"id":"E","t":-8.4,"v":1.28},{"id":"E","t":-8.0,"v":1.0},{"id":"E","t":-7.5,"v":0.85},{"id":"E","t":-7.0,"v":1.05},{"id":"E","t":-6.5,"v":0.8},{"id":"E","t":-6.0,"v":1.0},{"id":"E","t":-5.5,"v":0.75},{"id":"E","t":-5.0,"v":0.9},
      {"id":"F","t":-6.6,"v":0.5},{"id":"F","t":-6.2,"v":0.3},{"id":"F","t":-6.0,"v":0.08},{"id":"F","t":-5.7,"v":0.45},{"id":"F","t":-5.2,"v":0.6},{"id":"F","t":-5.0,"v":0.08},{"id":"F","t":-4.7,"v":0.5},{"id":"F","t":-4.2,"v":0.65},{"id":"F","t":-3.6,"v":0.4},{"id":"F","t":-3.3,"v":0.08},{"id":"F","t":-3.0,"v":0.45},{"id":"F","t":-2.5,"v":0.3},{"id":"F","t":-2.0,"v":0.5},
      {"id":"G","t":-5.5,"v":1.27},{"id":"G","t":-5.0,"v":1.1},{"id":"G","t":-4.5,"v":1.2},{"id":"G","t":-4.0,"v":1.0},{"id":"G","t":-3.5,"v":1.1},{"id":"G","t":-3.0,"v":0.9},{"id":"G","t":-2.5,"v":1.28},{"id":"G","t":-2.0,"v":1.0},{"id":"G","t":-1.5,"v":0.85},{"id":"G","t":-1.0,"v":0.7},{"id":"G","t":-0.5,"v":0.55},{"id":"G","t":0,"v":0.3},
      {"id":"H","t":-2.6,"v":1.23},{"id":"H","t":-1.4,"v":1.23},{"id":"H","t":-1.1,"v":1.4},
      {"id":"I","t":-0.6,"v":0.5},{"id":"I","t":-0.3,"v":1.1},{"id":"I","t":-0.15,"v":1.52},{"id":"I","t":0,"v":0.9},
      {"id":"J","t":-9.0,"v":0.75},{"id":"J","t":-8.5,"v":0.9},{"id":"J","t":-8.0,"v":0.7},{"id":"J","t":-7.5,"v":0.95},{"id":"J","t":-7.0,"v":0.75},{"id":"J","t":-6.5,"v":1.0},{"id":"J","t":-6.0,"v":0.8},{"id":"J","t":-5.5,"v":1.05},{"id":"J","t":-5.0,"v":0.85},{"id":"J","t":-4.5,"v":0.95},{"id":"J","t":-4.0,"v":0.7},{"id":"J","t":-3.5,"v":0.85},{"id":"J","t":-3.0,"v":0.6},{"id":"J","t":-2.5,"v":0.7},{"id":"J","t":-2.0,"v":0.5},{"id":"J","t":-1.5,"v":0.55},{"id":"J","t":-1.0,"v":0.35},{"id":"J","t":-0.5,"v":0.4},{"id":"J","t":0,"v":0.15},
      {"id":"K","t":-6.0,"v":1.2},{"id":"K","t":-5.5,"v":0.95},{"id":"K","t":-5.0,"v":1.15},{"id":"K","t":-4.5,"v":0.9},{"id":"K","t":-4.0,"v":1.05},{"id":"K","t":-3.5,"v":0.8},{"id":"K","t":-3.0,"v":0.95},{"id":"K","t":-2.5,"v":0.7},{"id":"K","t":-2.0,"v":0.8},{"id":"K","t":-1.5,"v":0.6},{"id":"K","t":-1.0,"v":0.65},{"id":"K","t":-0.5,"v":0.45},{"id":"K","t":0,"v":0.3},
      {"id":"L","t":-4.2,"v":1.2},{"id":"L","t":-3.7,"v":1.0},{"id":"L","t":-3.2,"v":1.1},{"id":"L","t":-2.7,"v":0.85},{"id":"L","t":-2.2,"v":1.0},{"id":"L","t":-1.7,"v":0.75},{"id":"L","t":-1.2,"v":0.85},{"id":"L","t":-0.7,"v":0.6},{"id":"L","t":-0.2,"v":0.5},
      {"id":"M","t":-3.0,"v":1.0},{"id":"M","t":-2.0,"v":1.0},{"id":"M","t":-1.8,"v":0.9},{"id":"M","t":-1.0,"v":0.92},{"id":"M","t":-0.5,"v":0.92},
      {"id":"N","t":-4.5,"v":0.95},{"id":"N","t":-3.5,"v":0.95},{"id":"N","t":-3.0,"v":0.75},{"id":"N","t":-2.5,"v":0.9},{"id":"N","t":-2.0,"v":0.9},{"id":"N","t":-1.5,"v":0.7},
      {"id":"O","t":-7.5,"v":0.6},{"id":"O","t":-7.0,"v":0.45},{"id":"O","t":-6.5,"v":0.7},{"id":"O","t":-6.0,"v":0.55},{"id":"O","t":-5.5,"v":0.75},{"id":"O","t":-5.0,"v":0.5},{"id":"O","t":-4.5,"v":0.65},{"id":"O","t":-4.0,"v":0.45},{"id":"O","t":-3.5,"v":0.55},{"id":"O","t":-3.0,"v":0.35},{"id":"O","t":-2.5,"v":0.45},{"id":"O","t":-2.0,"v":0.3},{"id":"O","t":-1.5,"v":0.35},{"id":"O","t":-1.0,"v":0.2},{"id":"O","t":-0.5,"v":0.25},{"id":"O","t":0,"v":0.05},
      {"id":"P","t":-9.5,"v":0.6},{"id":"P","t":-9.0,"v":0.8},{"id":"P","t":-8.5,"v":0.6},{"id":"P","t":-8.0,"v":0.85},{"id":"P","t":-7.5,"v":0.7},{"id":"P","t":-7.0,"v":0.9},{"id":"P","t":-6.5,"v":0.65},{"id":"P","t":-6.0,"v":0.85},{"id":"P","t":-5.5,"v":0.6},{"id":"P","t":-5.0,"v":0.75},{"id":"P","t":-4.5,"v":0.55},
      {"id":"Q","t":-5.0,"v":0.7},{"id":"Q","t":-4.5,"v":0.55},{"id":"Q","t":-4.0,"v":0.75},{"id":"Q","t":-3.5,"v":0.6},{"id":"Q","t":-3.0,"v":0.7},{"id":"Q","t":-2.5,"v":0.5},{"id":"Q","t":-2.0,"v":0.6},{"id":"Q","t":-1.5,"v":0.4},{"id":"Q","t":-1.0,"v":0.5},{"id":"Q","t":-0.5,"v":0.3},{"id":"Q","t":0,"v":0.2},
      {"id":"R","t":-2.0,"v":0.8},{"id":"R","t":-1.5,"v":0.95},{"id":"R","t":-1.0,"v":0.75},{"id":"R","t":-0.5,"v":0.8},{"id":"R","t":0,"v":0.55},
      {"id":"S","t":-6.8,"v":0.9},{"id":"S","t":-6.3,"v":1.1},{"id":"S","t":-5.8,"v":0.9},{"id":"S","t":-5.3,"v":1.2},{"id":"S","t":-4.8,"v":1.0},{"id":"S","t":-4.3,"v":1.15},{"id":"S","t":-3.8,"v":0.9},{"id":"S","t":-3.3,"v":1.05},{"id":"S","t":-2.8,"v":0.8},{"id":"S","t":-2.3,"v":0.95},{"id":"S","t":-1.8,"v":0.7},{"id":"S","t":-1.3,"v":0.8},{"id":"S","t":-0.8,"v":0.5},{"id":"S","t":-0.3,"v":0.45},
      {"id":"T","t":-1.0,"v":0.3},{"id":"T","t":-0.5,"v":0.2},{"id":"T","t":0,"v":0.0},
      {"id":"U","t":-3.8,"v":0.5},{"id":"U","t":-3.3,"v":0.65},{"id":"U","t":-2.8,"v":0.45},{"id":"U","t":-2.3,"v":0.6},{"id":"U","t":-1.8,"v":0.4},{"id":"U","t":-1.3,"v":0.5},{"id":"U","t":-0.8,"v":0.3},{"id":"U","t":-0.3,"v":0.35},{"id":"U","t":0,"v":0.1},
      {"id":"V","t":-8.0,"v":0.5},{"id":"V","t":-7.5,"v":0.75},{"id":"V","t":-7.0,"v":0.55},{"id":"V","t":-6.5,"v":0.85},{"id":"V","t":-6.0,"v":0.6},{"id":"V","t":-5.5,"v":0.8},{"id":"V","t":-5.0,"v":0.6},{"id":"V","t":-4.5,"v":0.7},
      {"id":"W","t":-2.5,"v":0.6},{"id":"W","t":-2.0,"v":0.45},{"id":"W","t":-1.5,"v":0.6},{"id":"W","t":-1.0,"v":0.45},{"id":"W","t":-0.5,"v":0.55},{"id":"W","t":0,"v":0.35},
      {"id":"Y","t":-5.8,"v":0.7},{"id":"Y","t":-5.3,"v":0.5},{"id":"Y","t":-4.8,"v":0.75},{"id":"Y","t":-4.3,"v":0.55},{"id":"Y","t":-3.8,"v":0.7},{"id":"Y","t":-3.3,"v":0.5},{"id":"Y","t":-2.8,"v":0.65},{"id":"Y","t":-2.3,"v":0.45},{"id":"Y","t":-1.8,"v":0.55},{"id":"Y","t":-1.3,"v":0.35},{"id":"Y","t":-0.8,"v":0.4},{"id":"Y","t":-0.3,"v":0.2},
      {"id":"Z","t":-1.7,"v":1.05},{"id":"Z","t":-1.2,"v":0.9},{"id":"Z","t":-0.7,"v":1.0},{"id":"Z","t":-0.2,"v":0.75},{"id":"Z","t":0,"v":0.6},
      {"id":"AA","t":-9.8,"v":0.95},{"id":"AA","t":-9.3,"v":0.75},{"id":"AA","t":-8.8,"v":1.0},{"id":"AA","t":-8.3,"v":0.8},{"id":"AA","t":-7.8,"v":0.95},{"id":"AA","t":-7.3,"v":0.7},
      {"id":"AB","t":-4.8,"v":0.3},{"id":"AB","t":-4.3,"v":0.45},{"id":"AB","t":-3.8,"v":0.25},{"id":"AB","t":-3.3,"v":0.4},{"id":"AB","t":-2.8,"v":0.3},{"id":"AB","t":-2.3,"v":0.2},{"id":"AB","t":-1.8,"v":0.35},
      {"id":"AC","t":-3.6,"v":0.8},{"id":"AC","t":-3.1,"v":0.6},{"id":"AC","t":-2.6,"v":0.75},{"id":"AC","t":-2.1,"v":0.55},{"id":"AC","t":-1.6,"v":0.65},{"id":"AC","t":-1.1,"v":0.45},{"id":"AC","t":-0.6,"v":0.4},{"id":"AC","t":-0.1,"v":0.25},
      {"id":"AD","t":-2.2,"v":0.72},{"id":"AD","t":-1.2,"v":0.72},{"id":"AD","t":-0.9,"v":0.6},{"id":"AD","t":-0.3,"v":0.65},{"id":"AD","t":0,"v":0.4},
      {"id":"AE","t":-7.8,"v":0.8},{"id":"AE","t":-7.3,"v":1.0},{"id":"AE","t":-6.8,"v":0.75},{"id":"AE","t":-6.3,"v":0.95},{"id":"AE","t":-5.8,"v":0.7},{"id":"AE","t":-5.3,"v":0.9},{"id":"AE","t":-4.8,"v":0.65},{"id":"AE","t":-4.3,"v":0.85},{"id":"AE","t":-3.8,"v":0.6},{"id":"AE","t":-3.3,"v":0.75},{"id":"AE","t":-2.8,"v":0.5},{"id":"AE","t":-2.3,"v":0.6},{"id":"AE","t":-1.8,"v":0.4},{"id":"AE","t":-1.3,"v":0.45},{"id":"AE","t":-0.8,"v":0.25},{"id":"AE","t":-0.3,"v":0.3},{"id":"AE","t":0,"v":0.1},
      {"id":"AF","t":-5.3,"v":0.95},{"id":"AF","t":-4.8,"v":0.8},{"id":"AF","t":-4.3,"v":1.0},{"id":"AF","t":-3.8,"v":0.8},{"id":"AF","t":-3.3,"v":0.95},{"id":"AF","t":-2.8,"v":0.7},{"id":"AF","t":-2.3,"v":0.85},{"id":"AF","t":-1.8,"v":0.6},{"id":"AF","t":-1.3,"v":0.7},{"id":"AF","t":-0.8,"v":0.45},{"id":"AF","t":-0.3,"v":0.5},{"id":"AF","t":0,"v":0.25},
      {"id":"AG","t":-4.0,"v":0.6},{"id":"AG","t":-3.5,"v":0.4},{"id":"AG","t":-3.0,"v":0.55},{"id":"AG","t":-2.5,"v":0.35},{"id":"AG","t":-2.0,"v":0.45},{"id":"AG","t":-1.5,"v":0.25},{"id":"AG","t":-1.0,"v":0.35},{"id":"AG","t":-0.5,"v":0.15},{"id":"AG","t":0,"v":0.05},
      {"id":"AH","t":-6.4,"v":0.65},{"id":"AH","t":-5.9,"v":0.85},{"id":"AH","t":-5.4,"v":0.6},{"id":"AH","t":-4.9,"v":0.8},{"id":"AH","t":-4.4,"v":0.55},{"id":"AH","t":-3.9,"v":0.75},{"id":"AH","t":-3.4,"v":0.55},{"id":"AH","t":-2.9,"v":0.7},{"id":"AH","t":-2.4,"v":0.5},{"id":"AH","t":-1.9,"v":0.6},{"id":"AH","t":-1.4,"v":0.45},
      {"id":"AI","t":-3.2,"v":1.15},{"id":"AI","t":-2.7,"v":0.95},{"id":"AI","t":-2.2,"v":1.1},{"id":"AI","t":-1.7,"v":0.9},{"id":"AI","t":-1.2,"v":1.0},{"id":"AI","t":-0.7,"v":0.75},{"id":"AI","t":-0.2,"v":0.7},{"id":"AI","t":0,"v":0.5},
      {"id":"AJ","t":-2.6,"v":0.85},{"id":"AJ","t":-2.1,"v":0.65},{"id":"AJ","t":-1.6,"v":0.8},{"id":"AJ","t":-1.1,"v":0.55},{"id":"AJ","t":-0.6,"v":0.65},{"id":"AJ","t":-0.1,"v":0.4},
      {"id":"AK","t":-7.0,"v":0.85},{"id":"AK","t":-6.5,"v":0.6},{"id":"AK","t":-6.0,"v":0.9},{"id":"AK","t":-5.5,"v":0.65},{"id":"AK","t":-5.0,"v":1.0},{"id":"AK","t":-4.5,"v":0.75},{"id":"AK","t":-4.0,"v":0.9},{"id":"AK","t":-3.5,"v":0.65},
      {"id":"AL","t":-1.4,"v":0.6},{"id":"AL","t":-1.0,"v":0.5},{"id":"AL","t":-0.6,"v":0.55},{"id":"AL","t":-0.2,"v":0.3},{"id":"AL","t":0,"v":0.2},
      {"id":"AM","t":-4.6,"v":1.05},{"id":"AM","t":-4.1,"v":0.85},{"id":"AM","t":-3.6,"v":1.0},{"id":"AM","t":-3.1,"v":0.75},{"id":"AM","t":-2.6,"v":0.9},{"id":"AM","t":-2.1,"v":0.65},{"id":"AM","t":-1.6,"v":0.75},{"id":"AM","t":-1.1,"v":0.5},{"id":"AM","t":-0.6,"v":0.5},{"id":"AM","t":0,"v":0.35},
      {"id":"AN","t":-2.0,"v":0.95},{"id":"AN","t":-1.5,"v":0.95},{"id":"AN","t":-1.0,"v":0.95},{"id":"AN","t":-0.5,"v":0.8},{"id":"AN","t":0,"v":0.6},
      {"id":"AO","t":-4.2,"v":0.85},{"id":"AO","t":-3.7,"v":1.05},{"id":"AO","t":-3.2,"v":0.8},{"id":"AO","t":-2.7,"v":1.0},{"id":"AO","t":-2.2,"v":0.75},{"id":"AO","t":-1.7,"v":0.85},{"id":"AO","t":-1.2,"v":0.6},{"id":"AO","t":-0.7,"v":0.65},{"id":"AO","t":-0.2,"v":0.4},{"id":"AO","t":0,"v":0.3},
      {"id":"AP","t":-5.6,"v":0.9},{"id":"AP","t":-5.1,"v":0.7},{"id":"AP","t":-4.6,"v":0.9},{"id":"AP","t":-4.1,"v":0.65},{"id":"AP","t":-3.6,"v":0.8},{"id":"AP","t":-3.1,"v":0.6},{"id":"AP","t":-2.6,"v":0.7},{"id":"AP","t":-2.1,"v":0.5},{"id":"AP","t":-1.6,"v":0.55},{"id":"AP","t":-1.1,"v":0.35},{"id":"AP","t":-0.6,"v":0.35},{"id":"AP","t":0,"v":0.15},
      {"id":"AQ","t":-3.4,"v":0.9},{"id":"AQ","t":-2.9,"v":1.1},{"id":"AQ","t":-2.4,"v":0.85},{"id":"AQ","t":-1.9,"v":0.95},{"id":"AQ","t":-1.4,"v":0.75},{"id":"AQ","t":-0.9,"v":0.8},{"id":"AQ","t":-0.4,"v":0.55},{"id":"AQ","t":0,"v":0.45},
      {"id":"AR","t":-2.3,"v":0.75},{"id":"AR","t":-1.8,"v":0.6},{"id":"AR","t":-1.3,"v":0.7},{"id":"AR","t":-0.8,"v":0.5},{"id":"AR","t":-0.3,"v":0.55},{"id":"AR","t":0,"v":0.3},
      {"id":"AS","t":-6.2,"v":1.05},{"id":"AS","t":-5.7,"v":0.85},{"id":"AS","t":-5.2,"v":1.05},{"id":"AS","t":-4.7,"v":0.8},{"id":"AS","t":-4.2,"v":1.0},{"id":"AS","t":-3.7,"v":0.75},{"id":"AS","t":-3.2,"v":0.9},{"id":"AS","t":-2.7,"v":0.65},{"id":"AS","t":-2.2,"v":0.75},
      {"id":"AT","t":-1.9,"v":0.85},{"id":"AT","t":-1.4,"v":0.7},{"id":"AT","t":-0.9,"v":0.75},{"id":"AT","t":-0.4,"v":0.5},{"id":"AT","t":0,"v":0.4},
      {"id":"AU","t":-4.4,"v":0.7},{"id":"AU","t":-3.9,"v":0.5},{"id":"AU","t":-3.4,"v":0.7},{"id":"AU","t":-2.9,"v":0.45},{"id":"AU","t":-2.4,"v":0.6},{"id":"AU","t":-1.9,"v":0.4},{"id":"AU","t":-1.4,"v":0.5},{"id":"AU","t":-0.9,"v":0.3},{"id":"AU","t":-0.4,"v":0.3},{"id":"AU","t":0,"v":0.1},
      {"id":"AV","t":-3.0,"v":0.85},{"id":"AV","t":-2.5,"v":0.85},{"id":"AV","t":-2.0,"v":0.85},{"id":"AV","t":-1.5,"v":0.8},{"id":"AV","t":-1.0,"v":0.8},{"id":"AV","t":-0.5,"v":0.65},
      {"id":"AW","t":-7.2,"v":0.7},{"id":"AW","t":-6.7,"v":0.9},{"id":"AW","t":-6.2,"v":0.7},{"id":"AW","t":-5.7,"v":0.95},{"id":"AW","t":-5.2,"v":0.75},{"id":"AW","t":-4.7,"v":0.9},{"id":"AW","t":-4.2,"v":0.7},
      {"id":"AX","t":-2.8,"v":1.05},{"id":"AX","t":-2.3,"v":0.9},{"id":"AX","t":-1.8,"v":1.0},{"id":"AX","t":-1.3,"v":0.85},{"id":"AX","t":-0.8,"v":0.9},{"id":"AX","t":-0.3,"v":0.7},{"id":"AX","t":0,"v":0.55},
      {"id":"AY","t":-1.2,"v":0.45},{"id":"AY","t":-0.8,"v":0.35},{"id":"AY","t":-0.4,"v":0.4},{"id":"AY","t":0,"v":0.2}
    ]
  },
  "hconcat": [
    {
      "width": 244, "height": 363,
      "layer": [
        {"data": {"name": "m1"}, "mark": {"type": "area", "color": "#d4d4d4", "interpolate": "monotone"},
         "encoding": {
           "x": {"field": "t", "type": "quantitative", "scale": {"domain": [-14.56, 0.62], "nice": false, "zero": false},
                 "axis": {"values": [-14, -12, -10, -8, -6, -4, -2, 0], "tickCount": 100, "labelExpr": "datum.value", "title": null, "grid": false, "labelOverlap": false}},
           "y": {"field": "lo", "type": "quantitative", "scale": {"domain": [-1.446, 3.95], "nice": false, "zero": false},
                 "axis": {"values": [-1.25, -1, -0.75, -0.5, -0.25, 0, 0.25, 0.5, 0.75, 1, 1.25, 1.5, 1.75, 2, 2.25, 2.5, 2.75, 3, 3.25, 3.5, 3.75],
                          "tickCount": 100, "labelOverlap": false,
                          "labelExpr": "abs(datum.value*2-round(datum.value*2))<0.001 ? replace(format(datum.value,'.1f'),'−','-') : ''",
                          "tickOpacity": {"condition": {"test": "abs(datum.value*2-round(datum.value*2))<0.001", "value": 1}, "value": 0},
                          "title": "log(Serum\u00a0 bilirubin)", "titlePadding": 20}},
           "y2": {"field": "hi"}}},
        {"data": {"name": "vl"}, "mark": {"type": "rule", "color": "#c4c4c4", "strokeWidth": 3.5},
         "encoding": {"x": {"field": "t", "type": "quantitative", "scale": {"domain": [-14.56, 0.62], "nice": false, "zero": false}}}},
        {"data": {"name": "s1"}, "mark": {"type": "line", "color": "#000000", "strokeWidth": 1, "opacity": 0.45, "clip": true},
         "encoding": {
           "x": {"field": "t", "type": "quantitative", "scale": {"domain": [-14.56, 0.62], "nice": false, "zero": false}},
           "y": {"field": "v", "type": "quantitative", "scale": {"domain": [-1.446, 3.95], "nice": false, "zero": false}},
           "detail": {"field": "id"}}},
        {"data": {"name": "m1"}, "mark": {"type": "line", "color": "#000000", "strokeWidth": 5, "interpolate": "monotone"},
         "encoding": {
           "x": {"field": "t", "type": "quantitative", "scale": {"domain": [-14.56, 0.62], "nice": false, "zero": false}},
           "y": {"field": "m", "type": "quantitative", "scale": {"domain": [-1.446, 3.95], "nice": false, "zero": false}}}}
      ]
    },
    {
      "width": 244, "height": 363,
      "layer": [
        {"data": {"name": "m2"}, "mark": {"type": "area", "color": "#d4d4d4", "interpolate": "monotone"},
         "encoding": {
           "x": {"field": "t", "type": "quantitative", "scale": {"domain": [-14.67, 0.63], "nice": false, "zero": false},
                 "axis": {"values": [-14, -12, -10, -8, -6, -4, -2, 0], "tickCount": 100, "labelExpr": "datum.value", "title": "Time (years) from death (0: time of death)", "titleFontSize": 21, "titlePadding": 7, "grid": false, "labelOverlap": false}},
           "y": {"field": "lo", "type": "quantitative", "scale": {"domain": [1.243, 4.796], "nice": false, "zero": false},
                 "axis": {"values": [1.25, 1.5, 1.75, 2, 2.25, 2.5, 2.75, 3, 3.25, 3.5, 3.75, 4, 4.25, 4.5, 4.75],
                          "tickCount": 100, "labelOverlap": false,
                          "labelExpr": "abs(datum.value*2-round(datum.value*2))<0.001 ? replace(format(datum.value,'.1f'),'−','-') : ''",
                          "tickOpacity": {"condition": {"test": "abs(datum.value*2-round(datum.value*2))<0.001", "value": 1}, "value": 0},
                          "title": "Albumin", "titlePadding": 30}},
           "y2": {"field": "hi"}}},
        {"data": {"name": "vl"}, "mark": {"type": "rule", "color": "#c4c4c4", "strokeWidth": 3.5},
         "encoding": {"x": {"field": "t", "type": "quantitative", "scale": {"domain": [-14.67, 0.63], "nice": false, "zero": false}}}},
        {"data": {"name": "s2"}, "mark": {"type": "line", "color": "#000000", "strokeWidth": 1, "opacity": 0.45, "clip": true},
         "encoding": {
           "x": {"field": "t", "type": "quantitative", "scale": {"domain": [-14.67, 0.63], "nice": false, "zero": false}},
           "y": {"field": "v", "type": "quantitative", "scale": {"domain": [1.243, 4.796], "nice": false, "zero": false}},
           "detail": {"field": "id"}}},
        {"data": {"name": "m2"}, "mark": {"type": "line", "color": "#000000", "strokeWidth": 5, "interpolate": "monotone"},
         "encoding": {
           "x": {"field": "t", "type": "quantitative", "scale": {"domain": [-14.67, 0.63], "nice": false, "zero": false}},
           "y": {"field": "m", "type": "quantitative", "scale": {"domain": [1.243, 4.796], "nice": false, "zero": false}}}}
      ]
    },
    {
      "width": 241, "height": 363,
      "layer": [
        {"data": {"name": "m3"}, "mark": {"type": "area", "color": "#d4d4d4", "interpolate": "monotone"},
         "encoding": {
           "x": {"field": "t", "type": "quantitative", "scale": {"domain": [-14.58, 0.455], "nice": false, "zero": false},
                 "axis": {"values": [-14, -12, -10, -8, -6, -4, -2, 0], "tickCount": 100, "labelExpr": "datum.value", "title": null, "grid": false, "labelOverlap": false}},
           "y": {"field": "lo", "type": "quantitative", "scale": {"domain": [-0.069, 1.6], "nice": false, "zero": false},
                 "axis": {"values": [0, 0.1, 0.2, 0.3, 0.4, 0.5, 0.6, 0.7, 0.8, 0.9, 1, 1.1, 1.2, 1.3, 1.4, 1.5, 1.6],
                          "tickCount": 100, "labelOverlap": false,
                          "labelExpr": "abs(datum.value*5-round(datum.value*5))<0.001 ? replace(format(datum.value,'.1f'),'−','-') : ''",
                          "tickOpacity": {"condition": {"test": "abs(datum.value*5-round(datum.value*5))<0.001", "value": 1}, "value": 0},
                          "title": "(0.1\u00a0 x\u00a0 Prothrombin\u00a0 time)⁻⁴", "titlePadding": 15}},
           "y2": {"field": "hi"}}},
        {"data": {"name": "vl"}, "mark": {"type": "rule", "color": "#c4c4c4", "strokeWidth": 3.5},
         "encoding": {"x": {"field": "t", "type": "quantitative", "scale": {"domain": [-14.58, 0.455], "nice": false, "zero": false}}}},
        {"data": {"name": "s3"}, "mark": {"type": "line", "color": "#000000", "strokeWidth": 1, "opacity": 0.45, "clip": true},
         "encoding": {
           "x": {"field": "t", "type": "quantitative", "scale": {"domain": [-14.58, 0.455], "nice": false, "zero": false}},
           "y": {"field": "v", "type": "quantitative", "scale": {"domain": [-0.069, 1.6], "nice": false, "zero": false}},
           "detail": {"field": "id"}}},
        {"data": {"name": "m3"}, "mark": {"type": "line", "color": "#000000", "strokeWidth": 5, "interpolate": "monotone"},
         "encoding": {
           "x": {"field": "t", "type": "quantitative", "scale": {"domain": [-14.58, 0.455], "nice": false, "zero": false}},
           "y": {"field": "m", "type": "quantitative", "scale": {"domain": [-0.069, 1.6], "nice": false, "zero": false}}}}
      ]
    }
  ],
  "spacing": 102,
  "bounds": "flush"
}
